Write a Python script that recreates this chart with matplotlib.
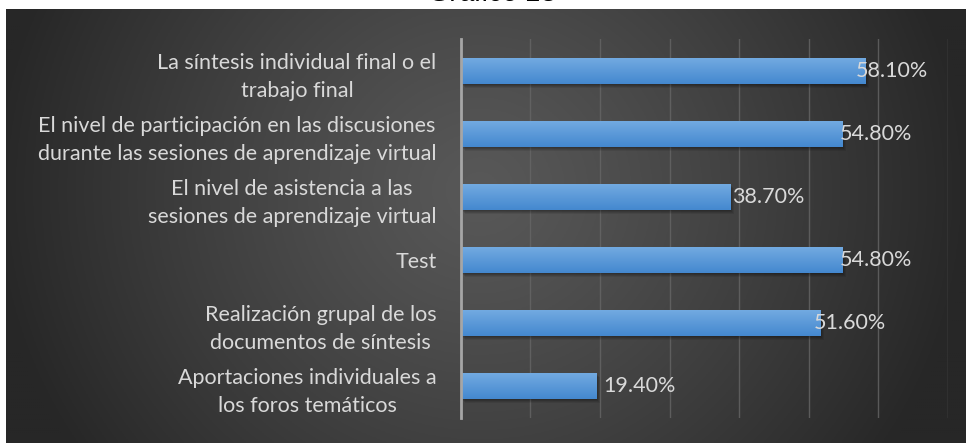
import numpy as np
import matplotlib
matplotlib.use("Agg")
import matplotlib.pyplot as plt
from matplotlib.transforms import ScaledTranslation

# ----------------------------
# Data
# ----------------------------
categories = [
    "La síntesis individual final o el\ntrabajo final",
    "El nivel de participación en las discusiones\ndurante las sesiones de aprendizaje virtual",
    "El nivel de asistencia a las\nsesiones de aprendizaje virtual",
    "Test",
    "Realización grupal de los\ndocumentos de síntesis",
    "Aportaciones individuales a\nlos foros temáticos",
]
values = [0.581, 0.548, 0.387, 0.548, 0.516, 0.194]
value_labels = ["58.10%", "54.80%", "38.70%", "54.80%", "51.60%", "19.40%"]
title = "Gráfico 18"

# label nudges (px) relative to bar end, as placed in the original
label_nudge = [-9, -2, 2, -2, -6, 8]

FONT = "Lato"
FS = 15.5
TEXT_COLOR = "#d9d9d9"

# ----------------------------
# Figure + background panel
# ----------------------------
W, H = 966, 443
fig = plt.figure(figsize=(W / 100, H / 100), dpi=100)
fig.patch.set_facecolor("white")

bg = fig.add_axes([6 / W, 0, 960 / W, 434 / H])
bg.set_axis_off()
xx, yy = np.meshgrid(np.linspace(6, 966, 480), np.linspace(9, 443, 220))
r = np.sqrt(((xx - 480) / 490) ** 2 + ((yy - 190) / 470) ** 2)
r = np.clip(r, 0, 1) ** 1.2
c_in = np.array([0x58, 0x58, 0x58]) / 255
c_out = np.array([0x27, 0x27, 0x27]) / 255
img = c_in[None, None, :] * (1 - r[..., None]) + c_out[None, None, :] * r[..., None]
bg.imshow(img, aspect="auto", extent=(0, 1, 0, 1), origin="upper")
bg.set_xlim(0, 1)
bg.set_ylim(0, 1)

# title sits mostly above the top edge, as in the original
fig.text(493 / W, 1 - 1 / H, title, ha="center", va="baseline",
         fontsize=20, style="italic", family="Liberation Sans", color="black")

# ----------------------------
# Bars
# ----------------------------
left, right = 460.7, 948.0
bottom, top = 418.0, 39.0
ax = fig.add_axes([left / W, 1 - bottom / H, (right - left) / W, (bottom - top) / H])
ax.set_facecolor("none")

n = len(categories)
ypos = np.arange(n)[::-1]
bar_h = 0.41

# shadow under bars
for k, a in enumerate([0.10, 0.10, 0.10, 0.08]):
    off = ScaledTranslation((1 + k) / 100, -(1 + k) / 100, fig.dpi_scale_trans)
    ax.barh(ypos, values, height=bar_h, color="black", alpha=a,
            transform=ax.transData + off, zorder=2)

bars = ax.barh(ypos, values, height=bar_h, color="#5b9bd5", zorder=3)
grad = np.linspace(0, 1, 64)[:, None]
top_c = np.array([0x72, 0xaa, 0xe1]) / 255
bot_c = np.array([0x44, 0x88, 0xcf]) / 255
gimg = top_c[None, None, :] * (1 - grad[..., None]) + bot_c[None, None, :] * grad[..., None]
gimg = np.repeat(gimg, 2, axis=1)
for b, y, v in zip(bars, ypos, values):
    im = ax.imshow(gimg, extent=(0, v, y - bar_h / 2, y + bar_h / 2),
                   origin="upper", aspect="auto", zorder=4)
    im.set_clip_path(b)

ax.set_xlim(0, 0.7)
ax.set_ylim(-0.5, n - 0.5)
ax.set_xticks(np.arange(0, 0.71, 0.1))
ax.xaxis.grid(True, color="#666666", linewidth=1.0, alpha=0.8)
ax.set_axisbelow(True)
ax.tick_params(axis="x", bottom=False, labelbottom=False)
ax.tick_params(axis="y", left=False, pad=14, labelcolor=TEXT_COLOR)
for s in ["top", "right", "bottom"]:
    ax.spines[s].set_visible(False)
ax.spines["left"].set_color("#a6a6a6")
ax.spines["left"].set_linewidth(2)
ax.spines["left"].set_zorder(5)

ax.set_yticks(ypos)
ax.set_yticklabels(categories, fontsize=FS, family=FONT, linespacing=1.5)
for lbl in ax.get_yticklabels():
    lbl.set_multialignment("center")

for y, v, t, dx in zip(ypos, values, value_labels, label_nudge):
    ax.annotate(t, (v, y), xytext=(dx * 0.72, 0), textcoords="offset points",
                ha="left", va="center", fontsize=FS, family=FONT,
                color=TEXT_COLOR, zorder=6)

fig.savefig("out.png", dpi=100)
plt.close(fig)
